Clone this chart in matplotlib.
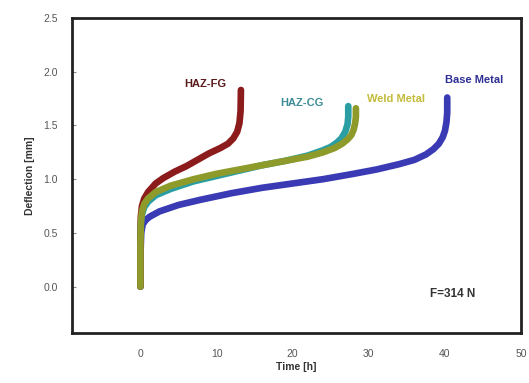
import matplotlib.pyplot as plt

plt.rcParams['font.family'] = ['Liberation Sans', 'DejaVu Sans']

# creep curves: time [h], deflection [mm]
base_t = [0, 0, 0.1, 0.3, 0.7, 1.2, 2.5, 5, 8, 12, 16, 20, 24, 28, 31, 34, 36, 37.5, 38.5, 39.2, 39.7, 40.0, 40.2, 40.3, 40.3]
base_y = [0, 0.3, 0.5, 0.58, 0.62, 0.65, 0.7, 0.76, 0.81, 0.87, 0.92, 0.96, 1.0, 1.05, 1.09, 1.14, 1.18, 1.23, 1.28, 1.33, 1.39, 1.45, 1.53, 1.62, 1.76]

cg_t = [0, 0, 0.05, 0.2, 0.5, 1, 2, 4, 7, 10, 13, 16, 19, 22, 24, 25, 25.8, 26.4, 26.9, 27.2, 27.3, 27.3]
cg_y = [0, 0.4, 0.58, 0.67, 0.74, 0.79, 0.85, 0.91, 0.98, 1.03, 1.08, 1.13, 1.17, 1.22, 1.27, 1.30, 1.34, 1.38, 1.44, 1.51, 1.58, 1.68]

fg_t = [0, 0, 0.05, 0.2, 0.5, 1, 2, 3, 4.5, 6, 7.5, 9, 10.5, 11.5, 12.2, 12.7, 13.0, 13.15, 13.2]
fg_y = [0, 0.4, 0.65, 0.75, 0.82, 0.88, 0.96, 1.01, 1.07, 1.12, 1.18, 1.24, 1.29, 1.33, 1.38, 1.44, 1.52, 1.63, 1.83]

weld_t = [0, 0, 0.05, 0.2, 0.5, 1, 2, 4, 7, 10, 13, 16, 19, 22, 24, 25.5, 26.5, 27.2, 27.7, 28.0, 28.2, 28.3, 28.3]
weld_y = [0, 0.4, 0.6, 0.7, 0.77, 0.82, 0.88, 0.94, 1.0, 1.05, 1.09, 1.13, 1.17, 1.21, 1.25, 1.29, 1.33, 1.37, 1.41, 1.46, 1.52, 1.58, 1.66]

fig = plt.figure(figsize=(5.29, 3.83), dpi=100)
ax = fig.add_axes([0.136, 0.131, 0.849, 0.822])

lw = 4.8
style = dict(lw=lw, solid_capstyle='round', solid_joinstyle='round')
ax.plot(base_t, base_y, color='#3a3ab4', **style)
ax.plot(cg_t, cg_y, color='#2a9ea2', **style)
ax.plot(fg_t, fg_y, color='#8c1c1c', **style)
ax.plot(weld_t, weld_y, color='#8e9a2a', **style)

fs = 8
ax.text(8.5, 1.89, 'HAZ-FG', color='#5a1a1a', fontsize=fs, fontweight='bold', ha='center', va='center')
ax.text(21.2, 1.71, 'HAZ-CG', color='#3c8c96', fontsize=fs, fontweight='bold', ha='center', va='center')
ax.text(33.6, 1.75, 'Weld Metal', color='#c4bc3c', fontsize=fs, fontweight='bold', ha='center', va='center')
ax.text(43.8, 1.92, 'Base Metal', color='#2e2e96', fontsize=fs, fontweight='bold', ha='center', va='center')
ax.text(41, -0.07, 'F=314 N', color='#333333', fontsize=8.5, fontweight='bold', ha='center', va='center')

ax.set_xlim(-9, 50)
ax.set_ylim(-0.43, 2.5)
ax.set_xticks([0, 10, 20, 30, 40, 50])
ax.set_yticks([0.0, 0.5, 1.0, 1.5, 2.0, 2.5])
ax.set_yticklabels(['0.0', '0.5', '1.0', '1.5', '2.0', '2.5'])
ax.tick_params(axis='x', length=0, pad=12, labelsize=7.5, labelcolor='#555555')
ax.tick_params(axis='y', direction='in', length=3, width=0.8, color='#888888', pad=10,
               labelsize=7.5, labelcolor='#555555')
for s in ax.spines.values():
    s.set_linewidth(2)
    s.set_color('#222222')

ax.set_xlabel('Time [h]', fontsize=7.5, fontweight='bold', color='#333333', labelpad=2)
ax.set_ylabel('Deflection [mm]', fontsize=7.5, fontweight='bold', color='#333333', labelpad=6)

fig.savefig('out.png', dpi=100)
